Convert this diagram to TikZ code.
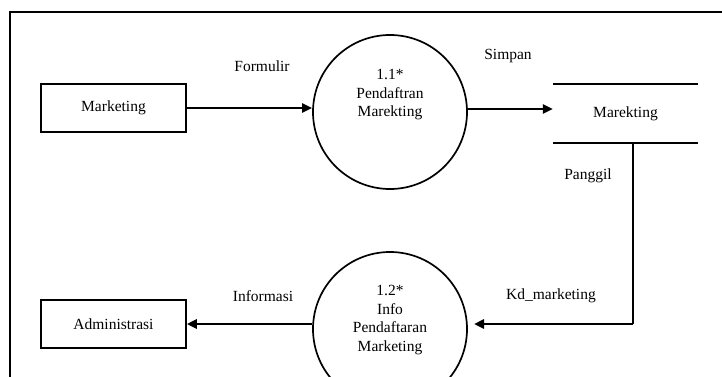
\documentclass[tikz,border=0pt]{standalone}
\usepackage{fontspec}
\setmainfont{Liberation Serif}
\usetikzlibrary{arrows.meta,calc}
\begin{document}
\begin{tikzpicture}[x=1pt,y=-1pt,
  every node/.style={font=\fontsize{15.5}{18.5}\selectfont, inner sep=0pt},
  entity/.style={draw, line width=1.5pt, minimum width=145pt, minimum height=48pt},
  proc/.style={draw, circle, line width=1.7pt, minimum size=154pt},
  storebox/.style={minimum width=145pt, minimum height=59pt},
  rule/.style={line width=2pt},
  flow/.style={line width=2.5pt, -{Triangle[length=10pt,width=9pt]}},
  ptext/.style={align=center}]
\useasboundingbox (0,0) rectangle (722,377);

% outer frame (top and left edges)
\draw[line width=1.5pt] (10,377) -- (10,12) -- (722,12);

% external entities
\node[entity] (mkt) at (113.5,108) {Marketing};
\node[entity] (adm) at (113.5,324) {Administrasi};

% processes
\node[proc] (p1) at (390,112) {};
\node[ptext] (p1t) at (390,95) {1.1*\\Pendaftran\\Marekting};
\node[proc] (p2) at (390,329) {};
\node[ptext] (p2t) at (390,320) {1.2*\\Info\\Pendaftaran\\Marketing};

% data store
\node[storebox] (store) at (625.5,113.5) {Marekting};
\draw[rule] (store.north west) -- (store.north east);
\draw[rule] (store.south west) -- (store.south east);

% flows
\draw[flow] (mkt.east) -- (mkt.east -| p1.west);
\draw[flow] ([yshift=3pt]p1.east) -- ([yshift=4.5pt]store.west);
\coordinate (tap) at (633,143);
\coordinate (turn) at (633,324);
\coordinate (kdend) at (474,324);
\draw[line width=2pt] (tap) -- (turn);
\draw[flow] (turn) -- (kdend);
\draw[flow] (p2.west |- adm.east) -- (adm.east);

% flow labels
\node (lform) at (262,66) {Formulir};
\node (lsimp) at (508,56) {Simpan};
\node (lpang) at (588,176) {Panggil};
\node (lkd) at (551,296) {Kd\_marketing};
\node (linfo) at (263,296) {Informasi};
\end{tikzpicture}
\end{document}
